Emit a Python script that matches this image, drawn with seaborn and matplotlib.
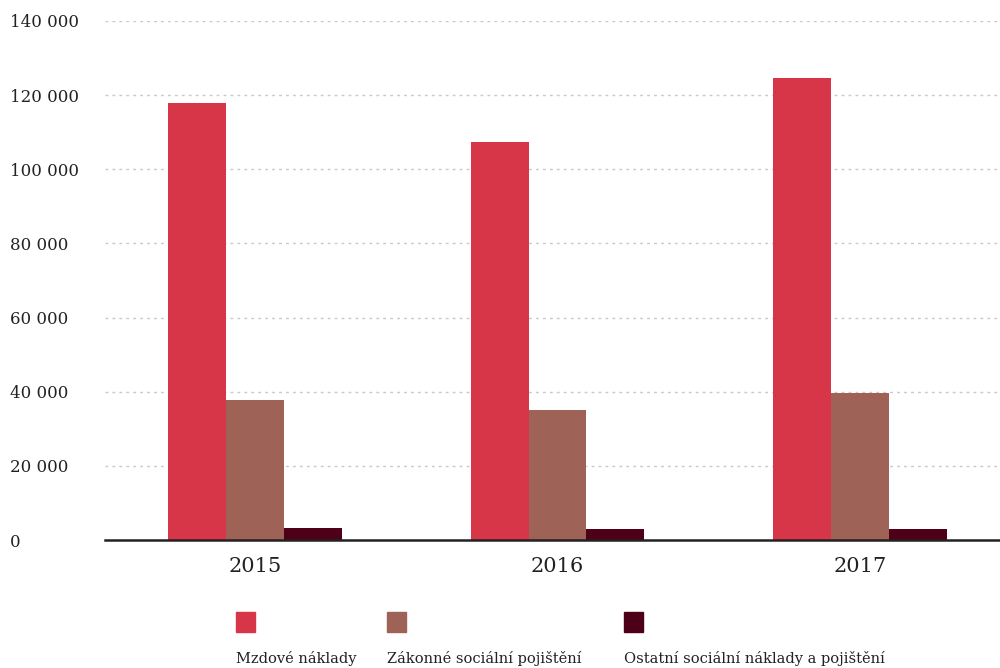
import numpy as np
import pandas as pd
import seaborn as sns
import matplotlib.pyplot as plt
from matplotlib.patches import Rectangle

years = ["2015", "2016", "2017"]
series = ["Mzdové náklady", "Zákonné sociální pojištění", "Ostatní sociální náklady a pojištění"]
mzdove = [117900, 107400, 124600]
zakonne = [37800, 35100, 39700]
ostatni = [3300, 3000, 3000]
colors = ["#D63647", "#9E6257", "#4F0019"]
yticks = [0, 20000, 40000, 60000, 80000, 100000, 120000, 140000]

df = pd.DataFrame({
	"rok": years * 3,
	"polozka": [series[0]] * 3 + [series[1]] * 3 + [series[2]] * 3,
	"hodnota": mzdove + zakonne + ostatni,
})

sns.set_theme(style="white")
plt.rcParams['font.family'] = ['DejaVu Serif']

fig = plt.figure(figsize=(10, 6.68), dpi=100)
ax = fig.add_axes([0.105, 0.1916, 0.895, 0.7770])

sns.barplot(data=df, x="rok", y="hodnota", hue="polozka", palette=colors,
			width=0.575, saturation=1, legend=False, linewidth=0, ax=ax)

ax.set_ylim(0, 140000)
ax.set_xlim(-0.496, 2.463)
ax.set_yticks(yticks)
ax.set_yticklabels([f"{v:,}".replace(",", " ") for v in yticks], fontsize=12, color="#222222")
ax.tick_params(axis="y", length=0, pad=0)
ax.tick_params(axis="x", length=0, pad=12, labelsize=15, labelcolor="#222222")
# left-aligned y labels at the figure edge
for lab in ax.get_yticklabels():
	lab.set_horizontalalignment("left")
	lab.set_transform(ax.get_yaxis_transform())
	lab.set_x(-95 / 895)
ax.set_xlabel("")
ax.set_ylabel("")
ax.yaxis.grid(True, linestyle=(0, (2, 3)), color="#c8c8c8", linewidth=1)
ax.set_axisbelow(True)
for s in ["top", "right", "left"]:
	ax.spines[s].set_visible(False)
ax.spines["bottom"].set_color("#222222")
ax.spines["bottom"].set_linewidth(1.8)

# legend: squares with labels below
leg_x = [0.236, 0.387, 0.624]
for x, c, name in zip(leg_x, colors, series):
	fig.patches.append(Rectangle((x, 1 - 632 / 668), 0.019, 20 / 668, color=c,
								 transform=fig.transFigure, figure=fig))
	fig.text(x, 1 - 658 / 668, name, fontsize=10.5, color="#222222", va="center", ha="left")

fig.savefig("out.png", dpi=100)
